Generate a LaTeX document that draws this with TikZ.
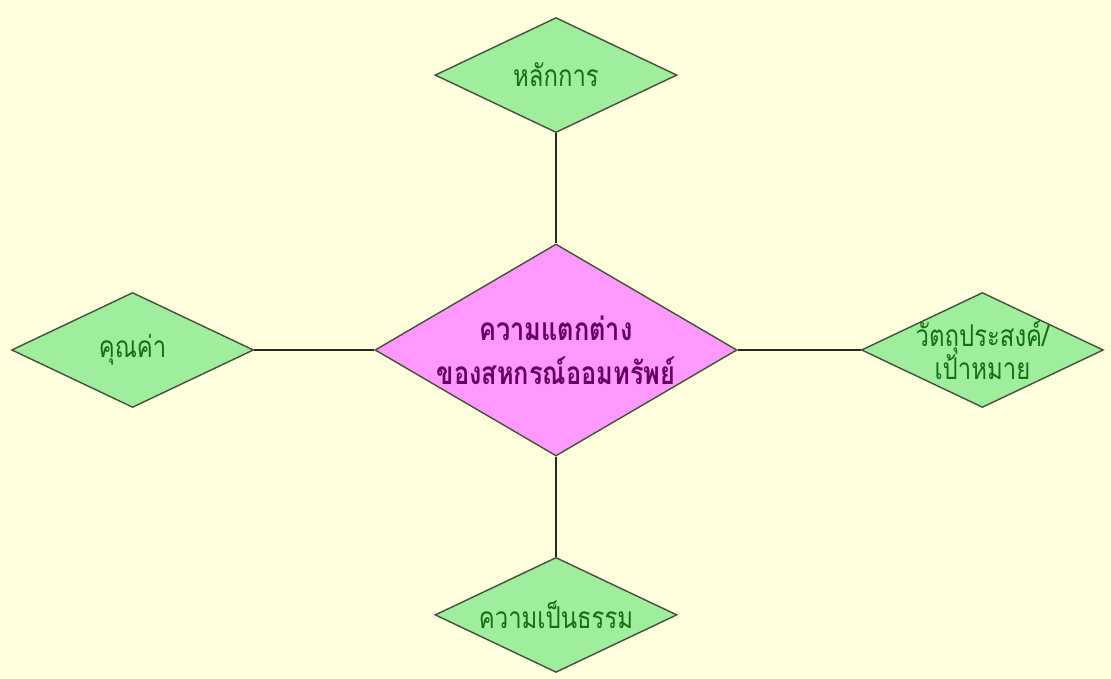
\documentclass[tikz,border=0pt]{standalone}
\usepackage{fontspec}
\newfontfamily\thaifont[Script=Thai, FakeStretch=0.8]{Loma}
\usepackage{xcolor}
\usepackage{tikz}
\usetikzlibrary{positioning, shapes.geometric}
\definecolor{bgyellow}{RGB}{255,255,221}
\definecolor{leafgreen}{RGB}{158,238,158}
\definecolor{hubpink}{RGB}{255,153,255}
\definecolor{edgegray}{RGB}{70,80,60}
\definecolor{leaftext}{RGB}{20,110,20}
\definecolor{hubtext}{RGB}{100,0,100}
\tikzset{
  leaf/.style={diamond, shape aspect=2.1, draw=edgegray, fill=leafgreen,
               text=leaftext, font=\thaifont\fontsize{8.5}{9.5}\selectfont,
               minimum width=2.42cm, minimum height=1.15cm,
               inner sep=0pt, align=center},
  hub/.style={diamond, shape aspect=1.7, draw=edgegray, fill=hubpink,
              text=hubtext, font=\thaifont\bfseries\fontsize{9}{12.5}\selectfont,
              minimum width=3.62cm, minimum height=2.12cm,
              inner sep=0pt, align=center},
  link/.style={draw=black!85, thin},
}
\begin{document}
\begin{tikzpicture}
  \fill[bgyellow] (0,0) rectangle (11.11,6.79);
  \useasboundingbox (0,0) rectangle (11.11,6.79);
  %% hub
  \node[hub] (diff) at (5.56,3.29) {ความแตกต่าง\\ของสหกรณ์ออมทรัพย์};
  %% leaves
  \node[leaf, above=1.10cm of diff] (principle) {หลักการ};
  \node[leaf, left=1.20cm of diff]  (value)     {คุณค่า};
  \node[leaf, right=1.23cm of diff, inner sep=-2.5pt] (goal) {วัตถุประสงค์/\\เป้าหมาย};
  \node[leaf, below=1.00cm of diff] (fairness)  {ความเป็นธรรม};
  \foreach \n in {principle,value,goal,fairness}
    \draw[link] (\n) -- (diff);
\end{tikzpicture}
\end{document}
